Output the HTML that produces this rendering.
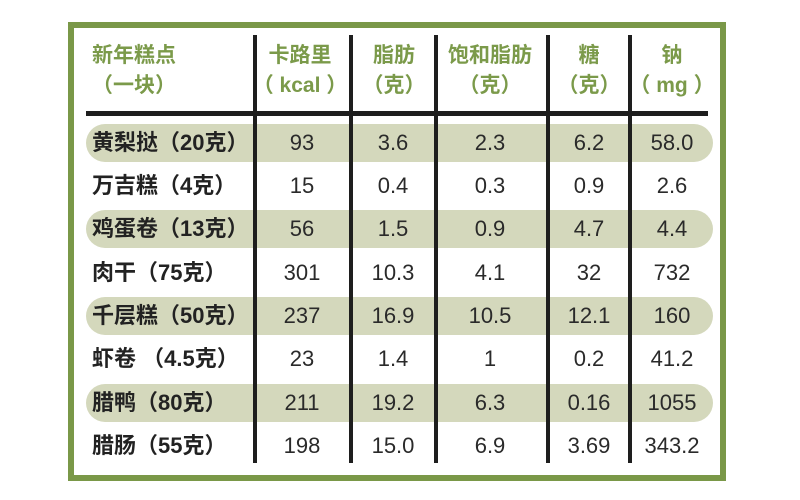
<!DOCTYPE html>
<html>
<head>
<meta charset="utf-8">
<style>
  html,body{margin:0;padding:0;}
  body{width:800px;height:500px;background:#fff;position:relative;overflow:hidden;
       font-family:"Liberation Sans","Noto Sans CJK SC",sans-serif;}
  .abs{position:absolute;}
  .box{left:68px;top:22px;width:658px;height:459px;box-sizing:border-box;border:6px solid #7a9848;}
  .band{left:86px;width:627px;height:38px;border-radius:19px;background:#d4d8bc;}
  .vl{top:35px;width:4px;height:428px;background:#1e1e1e;}
  .hl{left:86px;top:111px;width:622px;height:5px;background:#1e1e1e;}
  .h{color:#7b9a4a;font-weight:bold;font-size:21px;height:30px;line-height:30px;white-space:nowrap;}
  .c{text-align:center;width:120px;}
  .name{left:92px;color:#222;font-weight:bold;font-size:22px;height:30px;line-height:30px;white-space:nowrap;}
  .n{color:#2a2a2a;font-size:22px;height:30px;line-height:30px;text-align:center;width:120px;white-space:nowrap;}
</style>
</head>
<body>
<div class="abs box"></div>

<!-- bands -->
<div class="abs band" style="top:124px"></div>
<div class="abs band" style="top:210px"></div>
<div class="abs band" style="top:297px"></div>
<div class="abs band" style="top:384px"></div>

<!-- lines -->
<div class="abs hl"></div>
<div class="abs vl" style="left:253px"></div>
<div class="abs vl" style="left:349px"></div>
<div class="abs vl" style="left:434px"></div>
<div class="abs vl" style="left:546px"></div>
<div class="abs vl" style="left:628px"></div>

<!-- header -->
<div class="abs h" style="left:92px;top:41px">新年糕点</div>
<div class="abs h" style="left:92px;top:71px">（一块）</div>

<div class="abs h c" style="left:240px;top:41px">卡路里</div>
<div class="abs h c" style="left:240px;top:71px">（ kcal ）</div>

<div class="abs h c" style="left:334px;top:41px">脂肪</div>
<div class="abs h c" style="left:334px;top:71px">（克）</div>

<div class="abs h c" style="left:430px;top:41px">饱和脂肪</div>
<div class="abs h c" style="left:430px;top:71px">（克）</div>

<div class="abs h c" style="left:529px;top:41px">糖</div>
<div class="abs h c" style="left:529px;top:71px">（克）</div>

<div class="abs h c" style="left:612px;top:41px">钠</div>
<div class="abs h c" style="left:612px;top:71px">（ mg ）</div>

<!-- rows -->
<div class="abs name" style="top:128px">黄梨挞（20克）</div>
<div class="abs n" style="left:242px;top:128px">93</div>
<div class="abs n" style="left:333px;top:128px">3.6</div>
<div class="abs n" style="left:430px;top:128px">2.3</div>
<div class="abs n" style="left:529px;top:128px">6.2</div>
<div class="abs n" style="left:612px;top:128px">58.0</div>

<div class="abs name" style="top:171px">万吉糕（4克）</div>
<div class="abs n" style="left:242px;top:171px">15</div>
<div class="abs n" style="left:333px;top:171px">0.4</div>
<div class="abs n" style="left:430px;top:171px">0.3</div>
<div class="abs n" style="left:529px;top:171px">0.9</div>
<div class="abs n" style="left:612px;top:171px">2.6</div>

<div class="abs name" style="top:214px">鸡蛋卷（13克）</div>
<div class="abs n" style="left:242px;top:214px">56</div>
<div class="abs n" style="left:333px;top:214px">1.5</div>
<div class="abs n" style="left:430px;top:214px">0.9</div>
<div class="abs n" style="left:529px;top:214px">4.7</div>
<div class="abs n" style="left:612px;top:214px">4.4</div>

<div class="abs name" style="top:258px">肉干（75克）</div>
<div class="abs n" style="left:242px;top:258px">301</div>
<div class="abs n" style="left:333px;top:258px">10.3</div>
<div class="abs n" style="left:430px;top:258px">4.1</div>
<div class="abs n" style="left:529px;top:258px">32</div>
<div class="abs n" style="left:612px;top:258px">732</div>

<div class="abs name" style="top:301px">千层糕（50克）</div>
<div class="abs n" style="left:242px;top:301px">237</div>
<div class="abs n" style="left:333px;top:301px">16.9</div>
<div class="abs n" style="left:430px;top:301px">10.5</div>
<div class="abs n" style="left:529px;top:301px">12.1</div>
<div class="abs n" style="left:612px;top:301px">160</div>

<div class="abs name" style="top:344px">虾卷 （4.5克）</div>
<div class="abs n" style="left:242px;top:344px">23</div>
<div class="abs n" style="left:333px;top:344px">1.4</div>
<div class="abs n" style="left:430px;top:344px">1</div>
<div class="abs n" style="left:529px;top:344px">0.2</div>
<div class="abs n" style="left:612px;top:344px">41.2</div>

<div class="abs name" style="top:388px">腊鸭（80克）</div>
<div class="abs n" style="left:242px;top:388px">211</div>
<div class="abs n" style="left:333px;top:388px">19.2</div>
<div class="abs n" style="left:430px;top:388px">6.3</div>
<div class="abs n" style="left:529px;top:388px">0.16</div>
<div class="abs n" style="left:612px;top:388px">1055</div>

<div class="abs name" style="top:431px">腊肠（55克）</div>
<div class="abs n" style="left:242px;top:431px">198</div>
<div class="abs n" style="left:333px;top:431px">15.0</div>
<div class="abs n" style="left:430px;top:431px">6.9</div>
<div class="abs n" style="left:529px;top:431px">3.69</div>
<div class="abs n" style="left:612px;top:431px">343.2</div>
</body>
</html>
